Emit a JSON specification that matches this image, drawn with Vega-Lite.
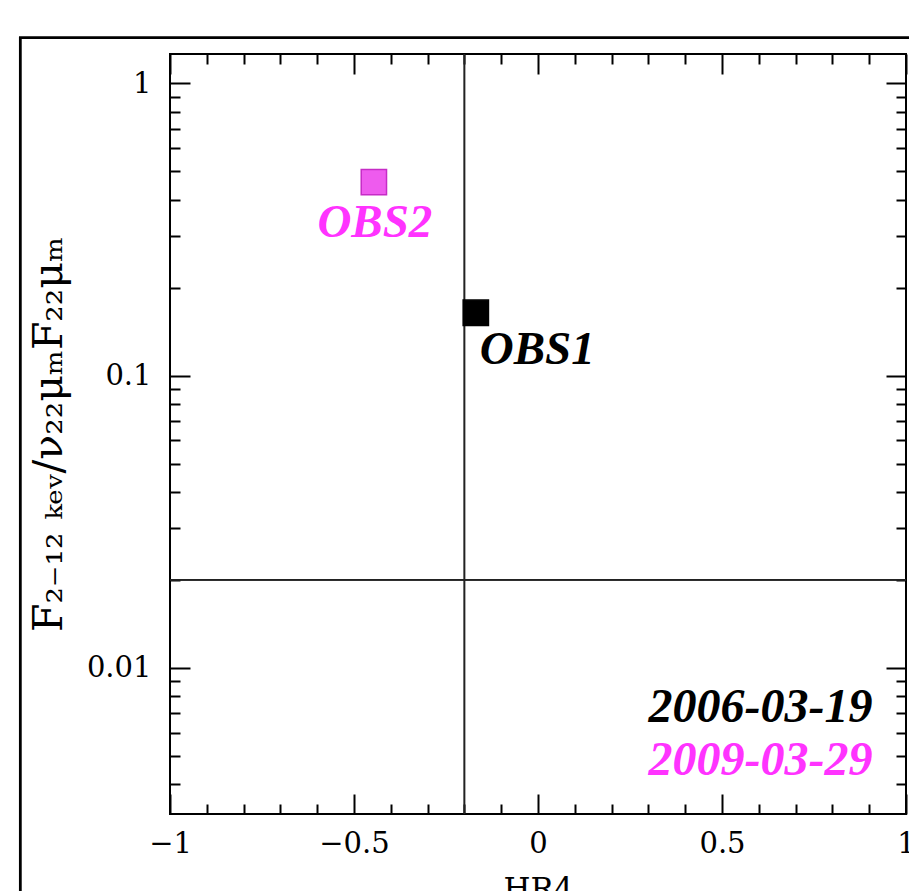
{
  "$schema": "https://vega.github.io/schema/vega-lite/v6.json",
  "width": 736,
  "height": 760,
  "autosize": {"type": "none"},
  "padding": {"left": 170, "top": 54, "right": 3, "bottom": 77},
  "background": "white",
  "data": {
    "values": [
      {"obs": "OBS1", "date": "2006-03-19", "hr4": -0.169, "ratio": 0.164},
      {"obs": "OBS2", "date": "2009-03-29", "hr4": -0.446, "ratio": 0.459}
    ]
  },
  "resolve": {"scale": {"x": "shared", "y": "shared"}, "axis": {"x": "independent", "y": "independent"}},
  "layer": [
    {
      "mark": {"type": "rect", "clip": false, "fill": "white", "fillOpacity": 0, "stroke": "black", "strokeWidth": 2.5},
      "encoding": {
        "x": {"datum": -1.407, "type": "quantitative", "scale": {"domain": [-1, 1], "nice": false, "zero": false}, "axis": null},
        "x2": {"datum": 1.3},
        "y": {"datum": 1.432, "type": "quantitative", "scale": {"type": "log", "domain": [0.0031623, 1.2589], "nice": false}, "axis": null},
        "y2": {"datum": 0.001}
      }
    },
    {
      "mark": {"type": "rule", "color": "#222222", "strokeWidth": 1.6},
      "encoding": {
        "x": {
          "datum": -0.2, "type": "quantitative",
          "axis": {
            "orient": "top", "title": null, "domain": false, "grid": false, "labels": false,
            "values": [-1, -0.9, -0.8, -0.7, -0.6, -0.5, -0.4, -0.3, -0.2, -0.1, 0, 0.1, 0.2, 0.3, 0.4, 0.5, 0.6, 0.7, 0.8, 0.9, 1],
            "tickColor": "black", "tickWidth": 2,
            "tickSize": {"condition": {"test": "abs(datum.value*2 - round(datum.value*2)) < 0.001", "value": -20}, "value": -10}
          }
        }
      }
    },
    {
      "mark": {"type": "rule", "color": "#222222", "strokeWidth": 1.6},
      "encoding": {
        "y": {
          "datum": 0.02, "type": "quantitative",
          "axis": {
            "orient": "right", "title": null, "domain": false, "grid": false, "labels": false,
            "values": [0.004, 0.005, 0.006, 0.007, 0.008, 0.009, 0.01, 0.02, 0.03, 0.04, 0.05, 0.06, 0.07, 0.08, 0.09, 0.1, 0.2, 0.3, 0.4, 0.5, 0.6, 0.7, 0.8, 0.9, 1],
            "tickColor": "black", "tickWidth": 2,
            "tickSize": {"condition": {"test": "abs(log(datum.value)/LN10 - round(log(datum.value)/LN10)) < 0.001", "value": -20}, "value": -10}
          }
        }
      }
    },
    {
      "mark": {"type": "square", "size": 640, "opacity": 1, "strokeWidth": 1.5},
      "encoding": {
        "x": {
          "field": "hr4", "type": "quantitative",
          "axis": {
            "orient": "bottom", "title": "HR4", "domain": false, "grid": false,
            "values": [-1, -0.9, -0.8, -0.7, -0.6, -0.5, -0.4, -0.3, -0.2, -0.1, 0, 0.1, 0.2, 0.3, 0.4, 0.5, 0.6, 0.7, 0.8, 0.9, 1],
            "format": "~g",
            "labelExpr": "abs(datum.value*2 - round(datum.value*2)) < 0.001 ? datum.label : ''",
            "tickColor": "black", "tickWidth": 2,
            "tickSize": {"condition": {"test": "abs(datum.value*2 - round(datum.value*2)) < 0.001", "value": -20}, "value": -10},
            "labelFont": "DejaVu Serif", "labelFontSize": 29, "labelColor": "black", "labelPadding": 35,
            "labelOverlap": false, "labelFlush": false, "labelBound": false,
            "titleFont": "DejaVu Serif", "titleFontSize": 31, "titleFontWeight": "normal", "titleColor": "black", "titlePadding": 7
          }
        },
        "y": {
          "field": "ratio", "type": "quantitative",
          "axis": {
            "orient": "left", "title": "F₂₋₁₂ ₖₑᵥ/ν₂₂μₘF₂₂μₘ", "domain": false, "grid": false,
            "values": [0.004, 0.005, 0.006, 0.007, 0.008, 0.009, 0.01, 0.02, 0.03, 0.04, 0.05, 0.06, 0.07, 0.08, 0.09, 0.1, 0.2, 0.3, 0.4, 0.5, 0.6, 0.7, 0.8, 0.9, 1],
            "format": "~g",
            "labelExpr": "abs(log(datum.value)/LN10 - round(log(datum.value)/LN10)) < 0.001 ? datum.label : ''",
            "tickColor": "black", "tickWidth": 2,
            "tickSize": {"condition": {"test": "abs(log(datum.value)/LN10 - round(log(datum.value)/LN10)) < 0.001", "value": -20}, "value": -10},
            "labelFont": "DejaVu Serif", "labelFontSize": 29, "labelColor": "black", "labelPadding": 39,
            "labelOverlap": false, "labelFlush": false, "labelBound": false,
            "titleFont": "DejaVu Serif", "titleFontSize": 41, "titleFontWeight": "normal", "titleColor": "black", "titlePadding": 16
          }
        },
        "fill": {"field": "obs", "type": "nominal", "scale": {"domain": ["OBS1", "OBS2"], "range": ["#000000", "#ee5bee"]}, "legend": null},
        "stroke": {"field": "obs", "type": "nominal", "scale": {"domain": ["OBS1", "OBS2"], "range": ["#000000", "#c62cc6"]}, "legend": null}
      }
    },
    {
      "transform": [{"filter": "datum.obs === 'OBS1'"}],
      "mark": {"type": "text", "align": "left", "baseline": "alphabetic", "dx": 4, "dy": 51, "font": "Liberation Serif", "fontSize": 47, "fontStyle": "italic", "fontWeight": "bold", "color": "black"},
      "encoding": {
        "x": {"field": "hr4", "type": "quantitative", "axis": null},
        "y": {"field": "ratio", "type": "quantitative", "axis": null},
        "text": {"field": "obs"}
      }
    },
    {
      "transform": [{"filter": "datum.obs === 'OBS2'"}],
      "mark": {"type": "text", "align": "center", "baseline": "alphabetic", "dx": 1, "dy": 55, "font": "Liberation Serif", "fontSize": 47, "fontStyle": "italic", "fontWeight": "bold", "color": "#ff33ff"},
      "encoding": {
        "x": {"field": "hr4", "type": "quantitative", "axis": null},
        "y": {"field": "ratio", "type": "quantitative", "axis": null},
        "text": {"field": "obs"}
      }
    },
    {
      "transform": [{"filter": "datum.obs === 'OBS1'"}],
      "mark": {"type": "text", "align": "right", "baseline": "alphabetic", "font": "Liberation Serif", "fontSize": 48, "fontStyle": "italic", "fontWeight": "bold", "color": "black"},
      "encoding": {
        "x": {"datum": 0.909, "type": "quantitative", "axis": null},
        "y": {"datum": 0.006543, "type": "quantitative", "axis": null},
        "text": {"field": "date"}
      }
    },
    {
      "transform": [{"filter": "datum.obs === 'OBS2'"}],
      "mark": {"type": "text", "align": "right", "baseline": "alphabetic", "font": "Liberation Serif", "fontSize": 48, "fontStyle": "italic", "fontWeight": "bold", "color": "#ff33ff"},
      "encoding": {
        "x": {"datum": 0.909, "type": "quantitative", "axis": null},
        "y": {"datum": 0.004293, "type": "quantitative", "axis": null},
        "text": {"field": "date"}
      }
    }
  ],
  "config": {
    "view": {"stroke": "black", "strokeWidth": 2}
  }
}
